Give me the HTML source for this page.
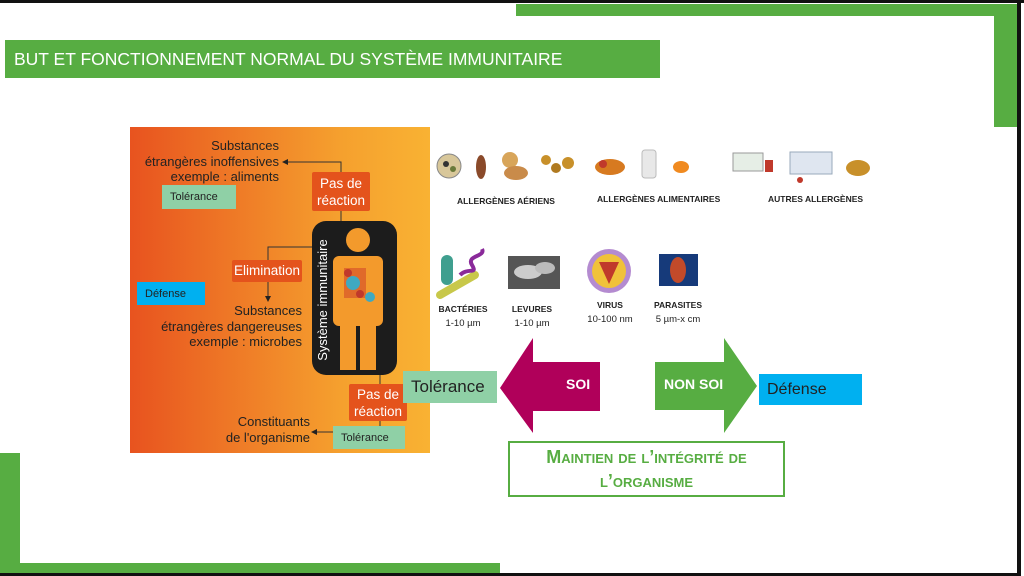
<!DOCTYPE html>
<html><head><meta charset="utf-8"><style>
*{margin:0;padding:0;box-sizing:border-box}
body{width:1024px;height:576px;position:relative;background:#fff;overflow:hidden;font-family:"Liberation Sans",sans-serif}
.a{position:absolute}
.t{position:absolute;color:#222;font-size:13px;line-height:15.5px;text-align:right;white-space:nowrap}
.ob{position:absolute;background:#e4531c;color:#fff;font-size:13.5px;line-height:17px;text-align:center;border-radius:2px}
.gb{position:absolute;background:#8fd0a6;color:#222;font-size:11px;padding-left:8px;display:flex;align-items:center}
.lb{position:absolute;font-size:8.5px;font-weight:bold;color:#222;white-space:nowrap}
.sm{position:absolute;font-size:9.5px;color:#222;text-align:center;line-height:14px;white-space:nowrap}
</style></head><body>
<div class="a" style="left:0;top:0;width:1024px;height:3px;background:#111"></div>
<div class="a" style="left:1017px;top:0;width:4px;height:576px;background:#111"></div>
<div class="a" style="left:0;top:573px;width:1021px;height:3px;background:#111"></div>
<div class="a" style="left:516px;top:4px;width:501px;height:12px;background:#57ad42"></div>
<div class="a" style="left:994px;top:4px;width:23px;height:123px;background:#57ad42"></div>
<div class="a" style="left:0;top:453px;width:20px;height:120px;background:#57ad42"></div>
<div class="a" style="left:0;top:563px;width:500px;height:10px;background:#57ad42"></div>
<div class="a" style="left:5px;top:40px;width:655px;height:38px;background:#57ad42;color:#fff;font-size:17.5px;line-height:38px;padding-left:9px;white-space:nowrap">BUT ET FONCTIONNEMENT NORMAL DU SYSTÈME IMMUNITAIRE</div>
<div class="a" style="left:130px;top:127px;width:300px;height:326px;background:linear-gradient(90deg,#e8531f,#f5a02e 70%,#f9b233)"></div>
<div class="t" style="right:745px;top:138px">Substances<br>étrangères inoffensives<br>exemple : aliments</div>
<svg class="a" style="left:0;top:0" width="1024" height="576">
<g stroke="#333" stroke-width="1" fill="none">
<path d="M287 162H341V175"/><path d="M341 211V222"/>
<path d="M312 247H268V296"/>
<path d="M380 375V386"/><path d="M380 421V432H316"/>
</g>
<g fill="#222">
<path d="M282 162l6-3v6z"/><path d="M268 302l-3-6h6z"/><path d="M311 432l6-3v6z"/>
</g>
<rect x="312" y="221" width="85" height="154" rx="14" fill="#1c1c1c"/>
<circle cx="358" cy="240" r="12" fill="#f39a2c"/>
<rect x="333" y="256" width="50" height="70" rx="6" fill="#f39a2c"/>
<rect x="340" y="320" width="16" height="50" fill="#f39a2c"/>
<rect x="360" y="320" width="16" height="50" fill="#f39a2c"/>
<path d="M344 268h22v30h-22z" fill="#e06a2a"/>
<circle cx="353" cy="283" r="7" fill="#3fa9c1"/><circle cx="370" cy="297" r="5" fill="#3fa9c1"/>
<circle cx="348" cy="273" r="4" fill="#c0392b"/><circle cx="360" cy="294" r="4" fill="#c0392b"/>
<text transform="translate(327 300) rotate(-90)" text-anchor="middle" fill="#fff" font-size="13" font-family="Liberation Sans">Système immunitaire</text>
<path d="M500 388L533 338V362H600V411H533V433Z" fill="#b0005a"/>
<path d="M655 362H724V338L757 386L724 433V410H655Z" fill="#57ad42"/>
<circle cx="449" cy="166" r="12" fill="#d8c79a" stroke="#888"/><circle cx="446" cy="164" r="3" fill="#333"/><circle cx="453" cy="169" r="3" fill="#6a7a3a"/>
<ellipse cx="481" cy="167" rx="5" ry="12" fill="#8a4a2a"/>
<circle cx="510" cy="160" r="8" fill="#d8a55a"/><ellipse cx="516" cy="173" rx="12" ry="7" fill="#c98b4a"/>
<circle cx="546" cy="160" r="5" fill="#c8902a"/><circle cx="556" cy="168" r="5" fill="#b07a20"/><circle cx="568" cy="163" r="6" fill="#c8902a"/>
<ellipse cx="610" cy="167" rx="15" ry="8" fill="#d77a20"/><circle cx="603" cy="164" r="4" fill="#c0392b"/>
<rect x="642" y="150" width="14" height="28" rx="3" fill="#e8e8e8" stroke="#bbb"/>
<ellipse cx="681" cy="167" rx="8" ry="6" fill="#f08a20"/>
<rect x="733" y="153" width="30" height="18" fill="#e6eee6" stroke="#999"/><rect x="765" y="160" width="8" height="12" fill="#c0392b"/>
<rect x="790" y="152" width="42" height="22" fill="#dfe6f0" stroke="#9ab"/><circle cx="800" cy="180" r="3" fill="#c0392b"/>
<ellipse cx="858" cy="168" rx="12" ry="8" fill="#c8902a"/>
<rect x="441" y="255" width="12" height="30" rx="6" fill="#3f9f8f"/>
<path d="M440 295L475 275" stroke="#c8c84a" stroke-width="8" stroke-linecap="round"/>
<path d="M460 275c8-8 18 0 12-10s14-8 10-16" stroke="#8a2a9a" stroke-width="4" fill="none"/>
<rect x="508" y="256" width="52" height="33" fill="#555"/><ellipse cx="528" cy="272" rx="14" ry="7" fill="#ccc"/><ellipse cx="545" cy="268" rx="10" ry="6" fill="#bbb"/>
<circle cx="609" cy="271" r="22" fill="#b48bd0"/><circle cx="609" cy="271" r="17" fill="#f0c23a"/><path d="M599 262h20l-10 22z" fill="#c0392b"/>
<rect x="659" y="254" width="39" height="32" fill="#163a7a"/><ellipse cx="678" cy="270" rx="8" ry="13" fill="#c24a2a"/>
</svg>
<div class="ob" style="left:312px;top:172px;width:58px;height:39px;padding-top:3px">Pas de<br>réaction</div>
<div class="gb" style="left:162px;top:185px;width:74px;height:24px">Tolérance</div>
<div class="ob" style="left:232px;top:260px;width:70px;height:22px;line-height:22px">Elimination</div>
<div class="gb" style="left:137px;top:282px;width:68px;height:23px;background:#00b0f0">Défense</div>
<div class="t" style="right:722px;top:303px">Substances<br>étrangères dangereuses<br>exemple : microbes</div>
<div class="ob" style="left:349px;top:384px;width:58px;height:37px;padding-top:2px">Pas de<br>réaction</div>
<div class="t" style="right:714px;top:414px">Constituants<br>de l'organisme</div>
<div class="gb" style="left:333px;top:426px;width:72px;height:23px">Tolérance</div>
<div class="gb" style="left:403px;top:371px;width:94px;height:32px;font-size:17px;padding-left:8px">Tolérance</div>
<div class="a" style="left:566px;top:376px;color:#fff;font-weight:bold;font-size:14px">SOI</div>
<div class="a" style="left:664px;top:376px;color:#fff;font-weight:bold;font-size:14px">NON SOI</div>
<div class="gb" style="left:759px;top:374px;width:103px;height:31px;background:#00b0f0;font-size:16px">Défense</div>
<div class="a" style="left:508px;top:441px;width:277px;height:56px;border:2px solid #57ad42;color:#57ad42;font-weight:bold;font-size:18px;text-align:center;line-height:24px;padding-top:2px;font-variant:small-caps;white-space:nowrap">Maintien de l’intégrité de<br>l’organisme</div>
<div class="lb" style="left:457px;top:196px">ALLERGÈNES AÉRIENS</div>
<div class="lb" style="left:597px;top:194px">ALLERGÈNES ALIMENTAIRES</div>
<div class="lb" style="left:768px;top:194px">AUTRES ALLERGÈNES</div>
<div class="sm" style="left:436px;top:302px;width:54px"><b style="font-size:8.5px">BACTÉRIES</b><br>1-10 µm</div>
<div class="sm" style="left:505px;top:302px;width:54px"><b style="font-size:8.5px">LEVURES</b><br>1-10 µm</div>
<div class="sm" style="left:580px;top:298px;width:60px"><b style="font-size:8.5px">VIRUS</b><br>10-100 nm</div>
<div class="sm" style="left:648px;top:298px;width:60px"><b style="font-size:8.5px">PARASITES</b><br>5 µm-x cm</div>
</body></html>
